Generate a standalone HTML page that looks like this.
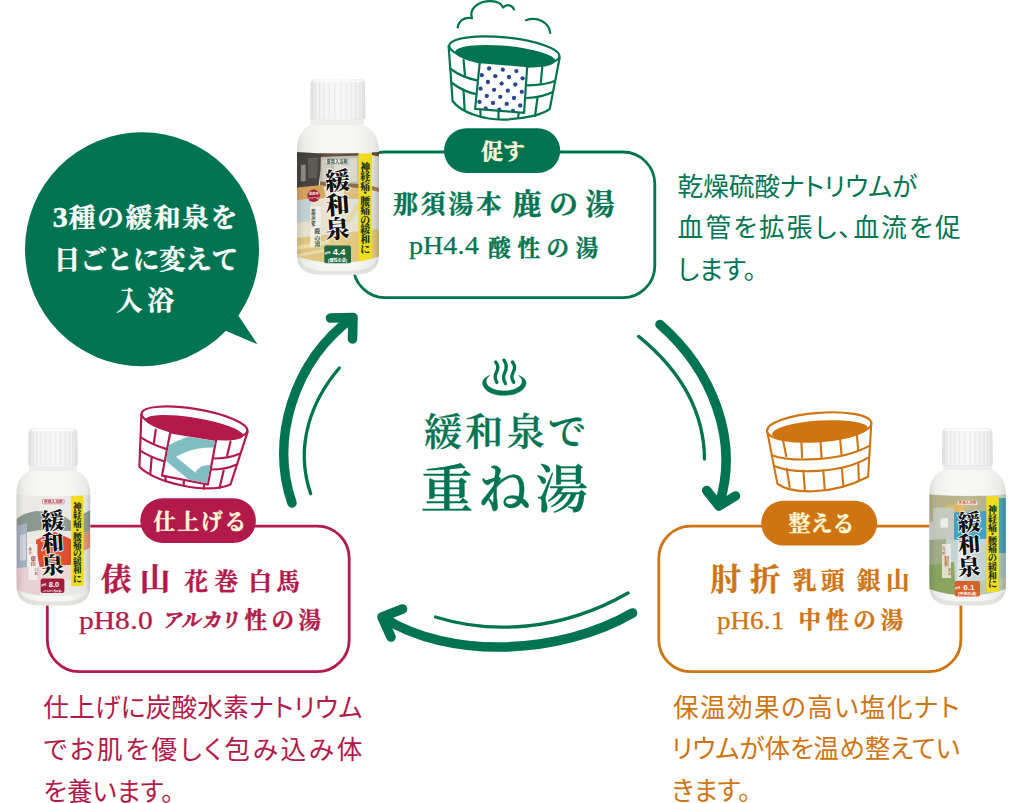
<!DOCTYPE html>
<html lang="ja">
<head>
<meta charset="utf-8">
<title>緩和泉で重ね湯</title>
<style>
html,body{margin:0;padding:0;background:#fff;}
body{width:1024px;height:803px;position:relative;overflow:hidden;}
#stage{position:absolute;left:0;top:0;width:1024px;height:803px;overflow:hidden;background:#fff;}
svg#art{position:absolute;left:0;top:0;}
.t{position:absolute;white-space:nowrap;margin:0;padding:0;}
.serif{font-family:"Liberation Serif","Noto Serif CJK JP","Noto Serif CJK SC",serif;font-weight:700;-webkit-text-stroke:0.45px currentColor;}
.sans{font-family:"Liberation Sans","Noto Sans CJK JP",sans-serif;font-weight:400;font-feature-settings:"palt" 1;}
.g{color:#007451;}
.o{color:#cf7412;}
.c{color:#b11a4a;}
.w{color:#fdf7d6;}
.desc{font-size:25.6px;line-height:41.7px;}
.desc div{white-space:nowrap;}
.desc .j{text-align:justify;text-align-last:justify;}
.k26{font-size:24.8px;line-height:32px;letter-spacing:2.4px;}
.k32{font-size:29px;line-height:38px;letter-spacing:7px;}
.k24{font-size:22.5px;line-height:30px;letter-spacing:5.5px;}
.k32b{font-size:30.5px;line-height:38px;letter-spacing:7.5px;}
.k24b{font-size:23.5px;line-height:30px;letter-spacing:4.5px;}
.kana{font-weight:700;-webkit-text-stroke:0.6px currentColor;font-size:19.5px;line-height:30px;letter-spacing:1.5px;font-feature-settings:"palt" 1;transform:skewX(-8deg);transform-origin:left bottom;}
.lat{font-family:"Liberation Serif",serif;font-weight:400;font-size:25px;line-height:30px;letter-spacing:0.3px;-webkit-text-stroke:0.25px currentColor;transform-origin:0 50%;}
.ph{letter-spacing:0;}
</style>
</head>
<body>
<div id="stage">
<svg id="art" width="1024" height="803" viewBox="0 0 1024 803">
<!-- speech bubble -->
<g id="bubble" fill="#007451">
<circle cx="142" cy="249.3" r="117"/>
<path d="M238 315 L257.5 344.3 L225 330.5 Z"/>
</g>

<!-- boxes -->
<g id="boxes" fill="none" stroke-width="2.8">
<rect x="353.3" y="152" width="301.5" height="145.7" rx="32" stroke="#007451"/>
<rect x="47.3" y="526.2" width="301.9" height="145.5" rx="32" stroke="#b11a4a"/>
<rect x="658.8" y="526.2" width="302.1" height="145.5" rx="32" stroke="#cf7412"/>
</g>
<!-- pills -->
<g id="pills">
<rect x="444" y="128.2" width="116.2" height="44.8" rx="22.4" fill="#007451"/>
<rect x="140.3" y="498.2" width="115.6" height="44.8" rx="22.4" fill="#b11a4a"/>
<rect x="761.2" y="500.8" width="116" height="44.8" rx="22.4" fill="#cf7412"/>
</g>

<!-- BOTTLES START -->
<g id="bottle1">
<defs><linearGradient id="bg1" x1="0" x2="1" y1="0" y2="0"><stop offset="0" stop-color="#d9d9d6"/><stop offset="0.08" stop-color="#ececea"/><stop offset="0.3" stop-color="#f7f7f5"/><stop offset="0.7" stop-color="#f6f6f4"/><stop offset="0.93" stop-color="#eaeae8"/><stop offset="1" stop-color="#dcdcd9"/></linearGradient>
<linearGradient id="cg1" x1="0" x2="1" y1="0" y2="0"><stop offset="0" stop-color="#e3e3e3"/><stop offset="0.12" stop-color="#f3f3f3"/><stop offset="0.55" stop-color="#f8f8f8"/><stop offset="0.9" stop-color="#efefef"/><stop offset="1" stop-color="#e2e2e2"/></linearGradient>
<linearGradient id="lg1" x1="0" x2="1" y1="0" y2="0"><stop offset="0" stop-color="#000" stop-opacity="0.12"/><stop offset="0.1" stop-color="#000" stop-opacity="0.02"/><stop offset="0.5" stop-color="#fff" stop-opacity="0.06"/><stop offset="0.92" stop-color="#000" stop-opacity="0.03"/><stop offset="1" stop-color="#000" stop-opacity="0.16"/></linearGradient>
<clipPath id="lc1"><path d="M297.0 152.0 Q338.0 155.0 379.0 152.0 L379.0 256.5 Q338.0 269.5 297.0 256.5 Z"/></clipPath></defs>
<path d="M310.8 119.2 L310.8 125 C303.8 127.5 297.0 135 297.0 151.5 L297.0 255.8 C297.5 269.8 306.0 274.8 324.0 274.8 L352.0 274.8 C370.0 274.8 378.5 269.8 379.0 255.8 L379.0 151.5 C379.0 135 370.5 127.5 363.5 125 L363.5 119.2 Z" fill="url(#bg1)"/>
<path d="M297.5 255.8 C298.0 269.8 306.0 274.8 324.0 274.8 L352.0 274.8 C370.0 274.8 378.0 269.8 378.5 255.8 C376.0 265.8 367.0 270.3 352.0 270.8 L324.0 270.8 C309.0 270.3 300.0 265.8 297.5 255.8 Z" fill="#cfcfcc" opacity="0.5"/>
<g clip-path="url(#lc1)">
<rect x="297.0" y="150.5" width="82.0" height="121.0" fill="#ebe5d2"/>
<path d="M320.0 150.0 L358.8 150.0 L358.8 187.0 L320.0 186.0 Z" fill="#c3bdac"/>
<path d="M334.0 160.0 L357.0 158.0 L357.0 182.0 L334.0 181.0 Z" fill="#dedacd"/>
<path d="M322.0 160.0 L331.0 160.0 L331.0 181.0 L322.0 181.0 Z" fill="#d2cdbf"/>
<path d="M320.0 150.0 L358.8 150.0 L358.8 155.5 L320.0 157.0 Z" fill="#5e4a36"/>
<path d="M320.0 181.5 L358.8 184.0 L358.8 188.0 L320.0 186.0 Z" fill="#8a6b48"/>
<path d="M371.7 150.0 L379.0 150.0 L379.0 192.0 L371.7 190.0 Z" fill="#e7e5dd"/>
<path d="M371.7 150.0 L379.0 150.0 L379.0 156.5 L371.7 155.0 Z" fill="#6b5138"/>
<path d="M371.7 186.0 L379.0 188.0 L379.0 192.0 L371.7 190.0 Z" fill="#a08058"/>
<path d="M297.0 150.0 L321.0 150.0 L320.5 170.0 L318.5 187.0 L297.0 189.0 Z" fill="#47433e"/>
<path d="M300.8 165.0 L305.6 164.6 L305.6 181.0 L300.8 181.6 Z" fill="#9d9990" opacity="0.85"/>
<path d="M308.0 158.0 L318.0 157.5 L317.0 178.0 L308.0 178.6 Z" fill="#66625c" opacity="0.8"/>
<path d="M297.0 187.5 L323.0 185.0 L326.0 198.0 L297.0 200.0 Z" fill="#d9a55f"/>
<path d="M344.0 189.0 L358.8 188.0 L358.8 199.0 L344.0 199.0 Z" fill="#e2bd80"/>
<path d="M297.0 200.5 L311.0 199.5 L311.0 221.0 L297.0 222.5 Z" fill="#c6d6d8"/>
<path d="M344.0 199.0 L358.8 199.0 L358.8 214.0 L350.0 224.0 L344.0 226.0 Z" fill="#dfe6df"/>
<path d="M332.0 236.0 L358.8 201.0 L358.8 209.0 L338.0 238.0 Z" fill="#ead9a4"/>
<path d="M371.7 192.0 L379.0 192.0 L379.0 232.0 L371.7 234.0 Z" fill="#e3e3d6"/>
<path d="M297.0 238.0 L379.0 229.0 L379.0 272.0 L297.0 272.0 Z" fill="#e4c980"/>
<path d="M297.0 246.0 L330.0 240.0 L330.0 243.5 L297.0 250.0 Z" fill="#f1e4b8" opacity="0.9"/>
<path d="M297.0 254.0 L324.0 249.0 L324.0 252.0 L297.0 257.5 Z" fill="#f1e4b8" opacity="0.8"/>
<rect x="310.2" y="206.4" width="10.6" height="41" fill="#f6f4ee" opacity="0.92"/>
<rect x="358.5" y="153.8" width="13.399999999999977" height="107.19999999999999" fill="#f6e31c"/>
<rect x="297.0" y="150.5" width="82.0" height="121.0" fill="url(#lg1)"/>
</g>
<g font-family="'Liberation Serif','Noto Serif CJK JP','Noto Serif CJK SC',serif" font-weight="900" font-size="9.83" fill="#14301f" text-anchor="middle">
<text x="365.2" y="170.8">神</text>
<text x="365.2" y="180.4">経</text>
<text x="365.2" y="190.0">痛</text>
<text x="365.2" y="197.3">・</text>
<text x="365.2" y="204.5">腰</text>
<text x="365.2" y="214.2">痛</text>
<text x="365.2" y="223.8">の</text>
<text x="365.2" y="233.4">緩</text>
<text x="365.2" y="243.1">和</text>
<text x="365.2" y="252.7">に</text>
</g>
<g font-family="'Liberation Serif','Noto Serif CJK JP','Noto Serif CJK SC',serif" font-weight="900" font-size="24.68" fill="#101010" stroke="#fff" stroke-width="1.6" paint-order="stroke" stroke-linejoin="round" text-anchor="middle">
<text x="337.4" y="189.6" transform="rotate(-4 337.4 180.7)">緩</text>
<text x="337.4" y="213.8" transform="rotate(-4 337.4 204.9)">和</text>
<text x="337.4" y="238.0" transform="rotate(-4 337.4 229.1)">泉</text>
</g>
<rect x="324.3" y="245.6" width="26.69999999999999" height="17.700000000000017" rx="2" fill="#1d6a43"/>
<text x="339.1" y="255.3" font-family="'Liberation Sans',sans-serif" font-weight="700" font-size="9.20" fill="#fff" text-anchor="middle">4.4</text>
<text x="337.6" y="261.5" font-family="'Liberation Sans','Noto Sans CJK JP',sans-serif" font-weight="700" font-size="4.09" fill="#fff" text-anchor="middle">[酸性の湯]</text>
<text x="327.5" y="254.4" font-family="'Liberation Sans',sans-serif" font-weight="700" font-size="4.25" fill="#fff" text-anchor="middle">pH</text>
<rect x="325.6" y="158.9" width="23.299999999999955" height="5.0" rx="0.8" fill="#fff" fill-opacity="0.9" stroke="#9ab0a0" stroke-width="0.5"/>
<text x="337.2" y="163.0" font-family="'Liberation Sans','Noto Sans CJK JP',sans-serif" font-weight="700" font-size="4.25" fill="#2a4a35" text-anchor="middle">薬用入浴剤</text>
<circle cx="313.6" cy="195.8" r="6.2" fill="#a3202e"/><text x="313.6" y="195.2" font-family="'Liberation Sans','Noto Sans CJK JP',sans-serif" font-weight="700" font-size="3.2" fill="#fff" text-anchor="middle">温泉地</text><text x="313.6" y="198.9" font-family="'Liberation Sans','Noto Sans CJK JP',sans-serif" font-weight="700" font-size="2.7" fill="#fff" text-anchor="middle">シリーズ</text><g font-family="'Liberation Serif','Noto Serif CJK JP','Noto Serif CJK SC',serif" font-weight="700" fill="#2a3a30" text-anchor="middle"><text font-size="4.4" x="313.2" y="212.6">那</text><text font-size="4.4" x="313.2" y="217.2">須</text><text font-size="4.4" x="313.2" y="221.8">湯</text><text font-size="4.4" x="313.2" y="226.4">本</text><text font-size="6" x="317.3" y="233.3">鹿</text><text font-size="6" x="317.3" y="239.6">の</text><text font-size="6" x="317.3" y="245.9">湯</text></g>
<path d="M310.8 118.7 L363.5 118.7 L363.5 125 L310.8 125 Z" fill="#ededeb"/>
<path d="M311.8 119.2 L362.5 119.2" stroke="#d5d5d3" stroke-width="1.2"/>
<path d="M310 119.2 L310.8 83 Q311 79 315.5 79 L360.1 79 Q364.6 79 364.8 83 L365.6 119.2 Q337.8 120.8 310 119.2 Z" fill="url(#cg1)"/>
<path d="M311.1 82.2 L311.1 118.9" stroke="#d6d6d6" stroke-width="1.1" opacity="0.55"/>
<path d="M312.9 82.2 L312.9 118.9" stroke="#d6d6d6" stroke-width="1.1" opacity="0.55"/>
<path d="M315.7 82.2 L315.7 118.9" stroke="#d6d6d6" stroke-width="1.1" opacity="0.55"/>
<path d="M319.5 82.2 L319.5 118.9" stroke="#d6d6d6" stroke-width="1.1" opacity="0.55"/>
<path d="M324.1 82.2 L324.1 118.9" stroke="#d6d6d6" stroke-width="1.1" opacity="0.4"/>
<path d="M329.4 82.2 L329.4 118.9" stroke="#d6d6d6" stroke-width="1.1" opacity="0.4"/>
<path d="M334.9 82.2 L334.9 118.9" stroke="#d6d6d6" stroke-width="1.1" opacity="0.4"/>
<path d="M340.7 82.2 L340.7 118.9" stroke="#d6d6d6" stroke-width="1.1" opacity="0.4"/>
<path d="M346.2 82.2 L346.2 118.9" stroke="#d6d6d6" stroke-width="1.1" opacity="0.4"/>
<path d="M351.4 82.2 L351.4 118.9" stroke="#d6d6d6" stroke-width="1.1" opacity="0.4"/>
<path d="M356.1 82.2 L356.1 118.9" stroke="#d6d6d6" stroke-width="1.1" opacity="0.55"/>
<path d="M359.9 82.2 L359.9 118.9" stroke="#d6d6d6" stroke-width="1.1" opacity="0.55"/>
<path d="M362.7 82.2 L362.7 118.9" stroke="#d6d6d6" stroke-width="1.1" opacity="0.55"/>
<path d="M364.5 82.2 L364.5 118.9" stroke="#d6d6d6" stroke-width="1.1" opacity="0.55"/>
<path d="M314 81.2 L361.6 81.2" stroke="#fff" stroke-width="1.4" opacity="0.8"/>
</g>
<g id="bottle2">
<defs><linearGradient id="bg2" x1="0" x2="1" y1="0" y2="0"><stop offset="0" stop-color="#d9d9d6"/><stop offset="0.08" stop-color="#ececea"/><stop offset="0.3" stop-color="#f7f7f5"/><stop offset="0.7" stop-color="#f6f6f4"/><stop offset="0.93" stop-color="#eaeae8"/><stop offset="1" stop-color="#dcdcd9"/></linearGradient>
<linearGradient id="cg2" x1="0" x2="1" y1="0" y2="0"><stop offset="0" stop-color="#e3e3e3"/><stop offset="0.12" stop-color="#f3f3f3"/><stop offset="0.55" stop-color="#f8f8f8"/><stop offset="0.9" stop-color="#efefef"/><stop offset="1" stop-color="#e2e2e2"/></linearGradient>
<linearGradient id="lg2" x1="0" x2="1" y1="0" y2="0"><stop offset="0" stop-color="#000" stop-opacity="0.12"/><stop offset="0.1" stop-color="#000" stop-opacity="0.02"/><stop offset="0.5" stop-color="#fff" stop-opacity="0.06"/><stop offset="0.92" stop-color="#000" stop-opacity="0.03"/><stop offset="1" stop-color="#000" stop-opacity="0.16"/></linearGradient>
<clipPath id="lc2"><path d="M929.3 494.5 Q967.5999999999999 497.5 1005.9 494.5 L1005.9 589 Q967.5999999999999 602 929.3 589 Z"/></clipPath></defs>
<path d="M943 464.8 L943 470 C936 472.5 929.3 480 929.3 494 L929.3 586.4 C929.8 600.4 938.3 605.4 956.3 605.4 L978.9 605.4 C996.9 605.4 1005.4 600.4 1005.9 586.4 L1005.9 494 C1005.9 480 999.2 472.5 992.2 470 L992.2 464.8 Z" fill="url(#bg2)"/>
<path d="M929.8 586.4 C930.3 600.4 938.3 605.4 956.3 605.4 L978.9 605.4 C996.9 605.4 1004.9 600.4 1005.4 586.4 C1002.9 596.4 993.9 600.9 978.9 601.4 L956.3 601.4 C941.3 600.9 932.3 596.4 929.8 586.4 Z" fill="#cfcfcc" opacity="0.5"/>
<g clip-path="url(#lc2)">
<rect x="929.3" y="493" width="76.60000000000002" height="111" fill="#cfd8d0"/>
<path d="M929.3 492.0 L986.8 492.0 L986.8 514.0 L955.0 520.0 L929.3 522.0 Z" fill="#b9b68e"/>
<path d="M946.0 505.0 L963.0 503.5 L965.0 514.0 L946.0 516.0 Z" fill="#e3b962"/>
<path d="M933.0 508.0 L954.0 507.0 L954.0 540.0 L933.0 541.0 Z" fill="#c9cec2"/>
<path d="M940.4 518.4 L948.0 518.0 L948.0 527.4 L940.4 527.8 Z" fill="#f2f2ee"/>
<path d="M954.0 512.5 L986.8 511.0 L986.8 539.0 L954.0 540.0 Z" fill="#3fa3c5"/>
<path d="M998.7 498.0 L1005.9 498.0 L1005.9 553.0 L998.7 553.0 Z" fill="#4aa7b9"/>
<path d="M998.7 553.0 L1005.9 553.0 L1005.9 580.0 L998.7 580.0 Z" fill="#a9c4c0"/>
<path d="M929.3 540.0 L946.0 539.0 L948.0 575.0 L929.3 578.0 Z" fill="#a3b18c"/>
<path d="M946.0 540.0 L986.8 539.0 L986.8 584.0 L946.0 586.0 Z" fill="#c6d6d3"/>
<path d="M958.0 541.0 L966.0 540.5 L964.0 580.0 L957.0 580.0 Z" fill="#e6eeec" opacity="0.9"/>
<path d="M929.3 565.0 L954.0 562.0 L956.0 600.0 L929.3 600.0 Z" fill="#8ba861"/>
<path d="M956.0 584.0 L1005.9 578.0 L1005.9 600.0 L956.0 600.0 Z" fill="#bfcbb0"/>
<rect x="942" y="544" width="9" height="34" fill="#f4f3ec" opacity="0.82"/>
<rect x="986.4" y="496.2" width="12.200000000000045" height="95.80000000000001" fill="#f6e31c"/>
<rect x="929.3" y="493" width="76.60000000000002" height="111" fill="url(#lg2)"/>
</g>
<g font-family="'Liberation Serif','Noto Serif CJK JP','Noto Serif CJK SC',serif" font-weight="900" font-size="8.91" fill="#14301f" text-anchor="middle">
<text x="992.5" y="513.1">神</text>
<text x="992.5" y="521.8">経</text>
<text x="992.5" y="530.6">痛</text>
<text x="992.5" y="537.1">・</text>
<text x="992.5" y="543.7">腰</text>
<text x="992.5" y="552.4">痛</text>
<text x="992.5" y="561.1">の</text>
<text x="992.5" y="569.9">緩</text>
<text x="992.5" y="578.6">和</text>
<text x="992.5" y="587.3">に</text>
</g>
<g font-family="'Liberation Serif','Noto Serif CJK JP','Noto Serif CJK SC',serif" font-weight="900" font-size="22.88" fill="#101010" stroke="#fff" stroke-width="1.6" paint-order="stroke" stroke-linejoin="round" text-anchor="middle">
<text x="969.2" y="530.4" transform="rotate(-4 969.2 522.1)">緩</text>
<text x="969.2" y="552.8" transform="rotate(-4 969.2 544.6)">和</text>
<text x="969.2" y="575.2" transform="rotate(-4 969.2 567.0)">泉</text>
</g>
<rect x="954.6" y="581.1" width="25.399999999999977" height="15.5" rx="2" fill="#d6612a"/>
<text x="968.8" y="589.6" font-family="'Liberation Sans',sans-serif" font-weight="700" font-size="8.06" fill="#fff" text-anchor="middle">6.1</text>
<text x="967.3" y="595.1" font-family="'Liberation Sans','Noto Sans CJK JP',sans-serif" font-weight="700" font-size="3.89" fill="#fff" text-anchor="middle">[中性の湯]</text>
<text x="957.8" y="588.9" font-family="'Liberation Sans',sans-serif" font-weight="700" font-size="3.72" fill="#fff" text-anchor="middle">pH</text>
<rect x="957.5" y="500.8" width="20.0" height="4.199999999999989" rx="0.8" fill="#fff" fill-opacity="0.9" stroke="#e0b090" stroke-width="0.5"/>
<text x="967.5" y="504.1" font-family="'Liberation Sans','Noto Sans CJK JP',sans-serif" font-weight="700" font-size="3.57" fill="#c0603a" text-anchor="middle">薬用入浴剤</text>
<g font-family="'Liberation Serif','Noto Serif CJK JP','Noto Serif CJK SC',serif" font-weight="700" fill="#b5522a" text-anchor="middle"><text font-size="3.4" x="943.6" y="550">乳</text><text font-size="3.4" x="943.6" y="553.8">頭</text><text font-size="5" x="946.8" y="560">肘</text><text font-size="5" x="946.8" y="565.4">折</text><text font-size="3.4" x="949.8" y="571">銀</text><text font-size="3.4" x="949.8" y="574.8">山</text></g>
<path d="M943 464.3 L992.2 464.3 L992.2 470 L943 470 Z" fill="#ededeb"/>
<path d="M944 464.8 L991.2 464.8" stroke="#d5d5d3" stroke-width="1.2"/>
<path d="M941.8 464.8 L942.5999999999999 432.1 Q942.8 428.1 947.3 428.1 L987.4 428.1 Q991.9 428.1 992.1 432.1 L992.9 464.8 Q967.3499999999999 466.40000000000003 941.8 464.8 Z" fill="url(#cg2)"/>
<path d="M942.8 431.3 L942.8 464.5" stroke="#d6d6d6" stroke-width="1.1" opacity="0.55"/>
<path d="M944.5 431.3 L944.5 464.5" stroke="#d6d6d6" stroke-width="1.1" opacity="0.55"/>
<path d="M947.1 431.3 L947.1 464.5" stroke="#d6d6d6" stroke-width="1.1" opacity="0.55"/>
<path d="M950.6 431.3 L950.6 464.5" stroke="#d6d6d6" stroke-width="1.1" opacity="0.55"/>
<path d="M954.8 431.3 L954.8 464.5" stroke="#d6d6d6" stroke-width="1.1" opacity="0.4"/>
<path d="M959.6 431.3 L959.6 464.5" stroke="#d6d6d6" stroke-width="1.1" opacity="0.4"/>
<path d="M964.7 431.3 L964.7 464.5" stroke="#d6d6d6" stroke-width="1.1" opacity="0.4"/>
<path d="M970.0 431.3 L970.0 464.5" stroke="#d6d6d6" stroke-width="1.1" opacity="0.4"/>
<path d="M975.1 431.3 L975.1 464.5" stroke="#d6d6d6" stroke-width="1.1" opacity="0.4"/>
<path d="M979.9 431.3 L979.9 464.5" stroke="#d6d6d6" stroke-width="1.1" opacity="0.4"/>
<path d="M984.1 431.3 L984.1 464.5" stroke="#d6d6d6" stroke-width="1.1" opacity="0.55"/>
<path d="M987.6 431.3 L987.6 464.5" stroke="#d6d6d6" stroke-width="1.1" opacity="0.55"/>
<path d="M990.2 431.3 L990.2 464.5" stroke="#d6d6d6" stroke-width="1.1" opacity="0.55"/>
<path d="M991.9 431.3 L991.9 464.5" stroke="#d6d6d6" stroke-width="1.1" opacity="0.55"/>
<path d="M945.8 430.3 L988.9 430.3" stroke="#fff" stroke-width="1.4" opacity="0.8"/>
</g>
<g id="bottle3">
<defs><linearGradient id="bg3" x1="0" x2="1" y1="0" y2="0"><stop offset="0" stop-color="#d9d9d6"/><stop offset="0.08" stop-color="#ececea"/><stop offset="0.3" stop-color="#f7f7f5"/><stop offset="0.7" stop-color="#f6f6f4"/><stop offset="0.93" stop-color="#eaeae8"/><stop offset="1" stop-color="#dcdcd9"/></linearGradient>
<linearGradient id="cg3" x1="0" x2="1" y1="0" y2="0"><stop offset="0" stop-color="#e3e3e3"/><stop offset="0.12" stop-color="#f3f3f3"/><stop offset="0.55" stop-color="#f8f8f8"/><stop offset="0.9" stop-color="#efefef"/><stop offset="1" stop-color="#e2e2e2"/></linearGradient>
<linearGradient id="lg3" x1="0" x2="1" y1="0" y2="0"><stop offset="0" stop-color="#000" stop-opacity="0.12"/><stop offset="0.1" stop-color="#000" stop-opacity="0.02"/><stop offset="0.5" stop-color="#fff" stop-opacity="0.06"/><stop offset="0.92" stop-color="#000" stop-opacity="0.03"/><stop offset="1" stop-color="#000" stop-opacity="0.16"/></linearGradient>
<clipPath id="lc3"><path d="M16.5 494.5 Q53.4 497.5 90.3 494.5 L90.3 590 Q53.4 603 16.5 590 Z"/></clipPath></defs>
<path d="M29.2 465.4 L29.2 471 C22.2 473.5 16.5 481 16.5 494 L16.5 586.4 C17.0 600.4 25.5 605.4 43.5 605.4 L63.3 605.4 C81.3 605.4 89.8 600.4 90.3 586.4 L90.3 494 C90.3 481 83.8 473.5 76.8 471 L76.8 465.4 Z" fill="url(#bg3)"/>
<path d="M17.0 586.4 C17.5 600.4 25.5 605.4 43.5 605.4 L63.3 605.4 C81.3 605.4 89.3 600.4 89.8 586.4 C87.3 596.4 78.3 600.9 63.3 601.4 L43.5 601.4 C28.5 600.9 19.5 596.4 17.0 586.4 Z" fill="#cfcfcc" opacity="0.5"/>
<g clip-path="url(#lc3)">
<rect x="16.5" y="493" width="73.8" height="112" fill="#efeeea"/>
<path d="M16.5 519.0 L24.0 514.0 L36.0 511.0 L50.0 512.0 L62.0 515.0 L71.0 521.0 L71.0 531.0 L40.0 530.0 L16.5 534.0 Z" fill="#8c9b93"/>
<path d="M83.2 514.0 L90.3 510.0 L90.3 531.0 L83.2 533.0 Z" fill="#95a49b"/>
<path d="M16.5 526.0 L27.0 523.0 L27.0 568.0 L16.5 570.0 Z" fill="#a9b5c2"/>
<path d="M20.0 535.0 L26.0 534.0 L26.0 560.0 L20.0 561.0 Z" fill="#d0d7de"/>
<path d="M36.1 539.3 L54.8 531.8 L71.0 539.3 L71.0 564.7 L39.9 567.7 L36.1 549.8 Z" fill="#e14b2d"/>
<path d="M26.5 540.0 L44.0 533.2 L46.0 535.5 L28.0 543.5 Z" fill="#f5efe8"/>
<path d="M83.2 533.0 L90.3 531.0 L90.3 548.0 L83.2 551.0 Z" fill="#e59a80"/>
<path d="M83.2 551.0 L90.3 548.0 L90.3 580.0 L83.2 582.0 Z" fill="#e9e7de"/>
<path d="M16.5 568.0 L40.0 566.0 L40.0 600.0 L16.5 600.0 Z" fill="#ecd3d8"/>
<path d="M40.0 567.0 L71.0 565.0 L71.0 580.0 L40.0 582.0 Z" fill="#f0dcd6"/>
<rect x="28.5" y="544" width="9" height="36" fill="#f8f6f2" opacity="0.9"/>
<rect x="71.2" y="495.6" width="12.399999999999991" height="90.39999999999998" fill="#f6e31c"/>
<rect x="16.5" y="493" width="73.8" height="112" fill="url(#lg3)"/>
</g>
<g font-family="'Liberation Serif','Noto Serif CJK JP','Noto Serif CJK SC',serif" font-weight="900" font-size="8.65" fill="#14301f" text-anchor="middle">
<text x="77.4" y="509.8">神</text>
<text x="77.4" y="518.2">経</text>
<text x="77.4" y="526.7">痛</text>
<text x="77.4" y="533.1">・</text>
<text x="77.4" y="539.5">腰</text>
<text x="77.4" y="547.9">痛</text>
<text x="77.4" y="556.4">の</text>
<text x="77.4" y="564.9">緩</text>
<text x="77.4" y="573.4">和</text>
<text x="77.4" y="581.9">に</text>
</g>
<g font-family="'Liberation Serif','Noto Serif CJK JP','Noto Serif CJK SC',serif" font-weight="900" font-size="22.88" fill="#101010" stroke="#fff" stroke-width="1.6" paint-order="stroke" stroke-linejoin="round" text-anchor="middle">
<text x="52.5" y="528.9" transform="rotate(-4 52.5 520.6)">緩</text>
<text x="52.5" y="551.3" transform="rotate(-4 52.5 543.1)">和</text>
<text x="52.5" y="573.7" transform="rotate(-4 52.5 565.5)">泉</text>
</g>
<rect x="40.6" y="578.6" width="23.800000000000004" height="14.399999999999977" rx="2" fill="#9e1f3c"/>
<text x="54.0" y="586.5" font-family="'Liberation Sans',sans-serif" font-weight="700" font-size="7.49" fill="#fff" text-anchor="middle">8.0</text>
<text x="52.5" y="591.6" font-family="'Liberation Sans','Noto Sans CJK JP',sans-serif" font-weight="700" font-size="2.43" fill="#fff" text-anchor="middle">[アルカリ性の湯]</text>
<text x="43.8" y="585.8" font-family="'Liberation Sans',sans-serif" font-weight="700" font-size="3.46" fill="#fff" text-anchor="middle">pH</text>
<rect x="42.5" y="499.4" width="21.700000000000003" height="4.400000000000034" rx="0.8" fill="#fff" fill-opacity="0.9" stroke="#c0404a" stroke-width="0.5"/>
<text x="53.4" y="502.9" font-family="'Liberation Sans','Noto Sans CJK JP',sans-serif" font-weight="700" font-size="3.74" fill="#b02a3a" text-anchor="middle">薬用入浴剤</text>
<g font-family="'Liberation Serif','Noto Serif CJK JP','Noto Serif CJK SC',serif" font-weight="700" fill="#9e2440" text-anchor="middle"><text font-size="3.4" x="30.2" y="550">花</text><text font-size="3.4" x="30.2" y="553.8">巻</text><text font-size="5" x="33.2" y="560">俵</text><text font-size="5" x="33.2" y="565.4">山</text><text font-size="3.4" x="36.2" y="571">白</text><text font-size="3.4" x="36.2" y="574.8">馬</text></g>
<path d="M29.2 464.9 L76.8 464.9 L76.8 471 L29.2 471 Z" fill="#ededeb"/>
<path d="M30.2 465.4 L75.8 465.4" stroke="#d5d5d3" stroke-width="1.2"/>
<path d="M28 465.4 L28.8 432.1 Q29 428.1 33.5 428.1 L72.4 428.1 Q76.9 428.1 77.10000000000001 432.1 L77.9 465.4 Q52.95 467.0 28 465.4 Z" fill="url(#cg3)"/>
<path d="M29.0 431.3 L29.0 465.09999999999997" stroke="#d6d6d6" stroke-width="1.1" opacity="0.55"/>
<path d="M30.6 431.3 L30.6 465.09999999999997" stroke="#d6d6d6" stroke-width="1.1" opacity="0.55"/>
<path d="M33.2 431.3 L33.2 465.09999999999997" stroke="#d6d6d6" stroke-width="1.1" opacity="0.55"/>
<path d="M36.6 431.3 L36.6 465.09999999999997" stroke="#d6d6d6" stroke-width="1.1" opacity="0.55"/>
<path d="M40.7 431.3 L40.7 465.09999999999997" stroke="#d6d6d6" stroke-width="1.1" opacity="0.4"/>
<path d="M45.4 431.3 L45.4 465.09999999999997" stroke="#d6d6d6" stroke-width="1.1" opacity="0.4"/>
<path d="M50.4 431.3 L50.4 465.09999999999997" stroke="#d6d6d6" stroke-width="1.1" opacity="0.4"/>
<path d="M55.5 431.3 L55.5 465.09999999999997" stroke="#d6d6d6" stroke-width="1.1" opacity="0.4"/>
<path d="M60.5 431.3 L60.5 465.09999999999997" stroke="#d6d6d6" stroke-width="1.1" opacity="0.4"/>
<path d="M65.2 431.3 L65.2 465.09999999999997" stroke="#d6d6d6" stroke-width="1.1" opacity="0.4"/>
<path d="M69.3 431.3 L69.3 465.09999999999997" stroke="#d6d6d6" stroke-width="1.1" opacity="0.55"/>
<path d="M72.7 431.3 L72.7 465.09999999999997" stroke="#d6d6d6" stroke-width="1.1" opacity="0.55"/>
<path d="M75.3 431.3 L75.3 465.09999999999997" stroke="#d6d6d6" stroke-width="1.1" opacity="0.55"/>
<path d="M76.9 431.3 L76.9 465.09999999999997" stroke="#d6d6d6" stroke-width="1.1" opacity="0.55"/>
<path d="M32 430.3 L73.9 430.3" stroke="#fff" stroke-width="1.4" opacity="0.8"/>
</g>
<!-- BOTTLES END -->

<!-- arrows -->
<g id="arrows" fill="none" stroke="#007451" stroke-linecap="round" stroke-linejoin="round">
<!-- left: up -->
<path d="M292 503 C270 440 293 362 352 318" stroke-width="9.6"/>
<path d="M330.5 318 L353 317.5 L352.5 339" stroke-width="9.6"/>
<path d="M310.7 493.8 C294 445 312 400 339.3 368" stroke-width="3.3"/>
<!-- right: down -->
<path d="M660 324.5 C712 370 740 440 719 505" stroke-width="9.6"/>
<path d="M706.7 490.5 L719 506 L735.4 496" stroke-width="9.6"/>
<path d="M638.6 336.4 C680 370 704 410 704.5 459" stroke-width="3.3"/>
<!-- bottom: left -->
<path d="M632.5 613 C560 655 450 660 383 617.5" stroke-width="9.6"/>
<path d="M402.5 609 L382 617 L391 637" stroke-width="9.6"/>
<path d="M628 593 C560 632 490 634 435.5 617" stroke-width="3.3"/>
</g>

<!-- bucket green (top) -->
<g id="bucket1" fill="none" stroke="#007451" stroke-width="2.2" stroke-linecap="round" stroke-linejoin="round">
<!-- steam -->
<path d="M457.7 27.5 C458.5 21 464.5 16.5 472 18.2 C468.5 7 481 0.8 491 1.2 C497.5 1.5 501.5 4 503 7.5 C507 3.5 512.5 5 514 9.5"/>
<path d="M526 20.2 C537 16.5 549 21.5 550.2 33"/>
<!-- body -->
<path d="M448.6 46 L452.6 101 C462 114 487 120 504 119.6 C524 119 543 114.5 549.8 108.8 L559.7 57.5" fill="#fff"/>
<!-- rim -->
<ellipse cx="504.3" cy="51" rx="55.3" ry="13.6" transform="rotate(5.6 504.3 51)" fill="#fff"/>
<ellipse cx="505.1" cy="56.4" rx="50.4" ry="10.6" transform="rotate(5.2 505.1 56.4)" fill="#007451" stroke="none"/>
<!-- band -->
<path d="M450 68.5 C460 76 470 79 477 80.3"/>
<path d="M527.8 85.4 C540 85 549 83.5 554.6 81"/>
<path d="M451.4 82.5 C460 89 468 92.5 476 94.2"/>
<path d="M526.8 98 C538 97.5 547 95 552.6 92"/>
<!-- staves -->
<path d="M463.6 59.5 L465 76.5"/>
<path d="M542.3 67 L540.6 84.5"/>
<path d="M463.5 89.5 L464.6 109.5"/>
<path d="M537.5 97.5 L535 116"/>
<path d="M480.3 109 L480.6 116.5"/>
<path d="M498.5 111.5 L498.5 119"/>
<path d="M518.8 112.5 L518 118"/>
<!-- towel -->
<path d="M479.8 62.2 L527.2 66.1 L524.1 112.8 L475.1 108.9 Z" fill="#fff"/>
</g>
<defs><clipPath id="tw1"><path d="M480.8 63.2 L526.2 67 L523.2 111.8 L476.1 108 Z"/></clipPath></defs>
<g id="dots1" fill="#27478e" clip-path="url(#tw1)">
<circle cx="489.1" cy="68.5" r="2.15"/><circle cx="502.8" cy="69.7" r="2.15"/><circle cx="516.4" cy="71.1" r="2.15"/><circle cx="481.8" cy="75.2" r="2.15"/><circle cx="495.3" cy="76.2" r="2.15"/><circle cx="509.0" cy="77.0" r="2.15"/><circle cx="522.6" cy="78.3" r="2.15"/><circle cx="487.9" cy="82.0" r="2.15"/><circle cx="501.6" cy="83.6" r="2.15"/><circle cx="515.3" cy="84.5" r="2.15"/><circle cx="480.6" cy="88.7" r="2.15"/><circle cx="494.1" cy="89.8" r="2.15"/><circle cx="507.8" cy="90.7" r="2.15"/><circle cx="521.8" cy="91.8" r="2.15"/><circle cx="486.8" cy="96.0" r="2.15"/><circle cx="500.3" cy="96.8" r="2.15"/><circle cx="514.0" cy="98.0" r="2.15"/><circle cx="479.5" cy="101.9" r="2.15"/><circle cx="493.0" cy="103.0" r="2.15"/><circle cx="506.7" cy="103.9" r="2.15"/><circle cx="520.2" cy="105.5" r="2.15"/><circle cx="485.7" cy="108.4" r="2.15"/><circle cx="499.2" cy="109.7" r="2.15"/><circle cx="512.9" cy="110.8" r="2.15"/>
</g>

<!-- bucket orange (right) -->
<g id="bucket2" fill="none" stroke="#cf7412" stroke-width="2.1" stroke-linecap="round" stroke-linejoin="round">
<path d="M767.1 431 L777.4 483.6 C790 493.5 830 496.5 868.1 476.7 L871.3 423" fill="#fff"/>
<ellipse cx="819.2" cy="427" rx="52.3" ry="14.2" transform="rotate(-4.44 819.2 427)" fill="#fff"/>
<ellipse cx="819.9" cy="431" rx="48" ry="10.4" transform="rotate(-3.7 819.9 431)" fill="#cf7412" stroke="none"/>
<path d="M772 455.2 C790 462 840 462 869.8 445.6" stroke-linecap="butt"/>
<path d="M774.4 466 C792 474 842 474 869 457.2" stroke-linecap="butt"/>
<path d="M782.9 439.7 L786.3 456.2"/>
<path d="M801.4 441.8 L802.1 457.5"/>
<path d="M820.5 441.1 L821.5 457.3"/>
<path d="M840.1 439 L841.5 454.1"/>
<path d="M856.8 434.2 L858.2 450"/>
<path d="M786.7 468.5 L789.7 487"/>
<path d="M803.4 470.5 L804.8 489.7"/>
<path d="M823.3 470.5 L824.7 489"/>
<path d="M841.8 467.8 L843.4 486.3"/>
<path d="M858.2 463 L858.9 480.8"/>
</g>

<!-- bucket crimson (left) -->
<g id="bucket3" fill="none" stroke="#b11a4a" stroke-width="2.2" stroke-linecap="round" stroke-linejoin="round">
<path d="M141.4 414 L139.4 466.7 C155 482 205 495 230.5 484.5 L247.6 431.8" fill="#fff"/>
<ellipse cx="194.5" cy="422.2" rx="53.6" ry="13.2" transform="rotate(9.5 194.5 422.2)" fill="#fff"/>
<ellipse cx="194.4" cy="427.7" rx="49.3" ry="9.9" transform="rotate(9.6 194.4 427.7)" fill="#b11a4a" stroke="none"/>
<path d="M140.8 437.3 C148 442 157 446 166.1 448.9"/>
<path d="M212.7 458.5 C222 458.5 232 457 239.6 453.7"/>
<path d="M139.8 450.3 C147 455 155 458.5 164 461.2"/>
<path d="M211.3 469.5 C220 469.5 229 468 236 464.7"/>
<path d="M155.8 429.5 L153.8 443.4"/>
<path d="M230.5 441.4 L227.1 455.8"/>
<path d="M151.7 457.1 L150.3 473.6"/>
<path d="M165.4 477.7 L165.8 481.1"/>
<path d="M183.9 481.1 L183.6 485.6"/>
<path d="M204.5 484.5 L203.4 488.6"/>
<path d="M223.6 470.8 L219.5 487.9"/>
<path d="M170.2 432.5 L216.1 440 L207.9 484.5 L162 475.6 Z" fill="#fff"/>
</g>
<defs><clipPath id="tw3"><path d="M171 433.7 L214.9 440.9 L207.1 483.3 L163.2 474.8 Z"/></clipPath></defs>
<g id="fan3" clip-path="url(#tw3)" fill="none" stroke="#80bcc4">
<path d="M218 441 Q187 438.5 164 457" stroke-width="13.5"/>
<path d="M168.8 457.1 L199 481.8" stroke-width="9.5"/>
<path d="M196.2 470.8 Q201.7 464 213 464.7 L207.9 484.5 L193.5 481.8 Z" fill="#80bcc4" stroke="none"/>
</g>

<!-- onsen icon -->
<g id="onsen" fill="none" stroke="#007451" stroke-linecap="round" stroke-linejoin="round">
<path d="M489.4 375.6 C484.4 377.7 482 381 482.8 384.2 C484.4 390.8 492 395.3 503.9 395.3 C515.8 395.3 524.2 390.8 525.9 384.2 C526.7 381 524.3 377.7 518.9 375.6 C521.6 378 522.6 380.2 522 382.6 C520.6 387.6 513.4 391 503.9 391 C494.6 391 487.6 387.6 486.2 382.6 C485.6 380.2 486.8 378 489.4 375.6 Z" fill="#007451" stroke-width="0.6"/>
<path d="M495.7 362 C498.9 366 498 369.6 496.4 372.4 C494.4 376 495 379.4 496.9 382.4" stroke-width="3.3"/>
<path d="M504 360.2 C507.4 365 506.4 369.2 504.8 372.4 C502.7 376.4 503.4 380.2 505.5 383.6" stroke-width="3.3"/>
<path d="M512.4 362 C515.7 366 514.8 369.6 513.1 372.4 C511 376 511.7 379.4 513.7 382.4" stroke-width="3.3"/>
</g>
</svg>

<!-- bubble text -->
<div class="t serif w" id="m_bub1" style="color:#fff;left:50px;top:197.5px;width:190px;text-align:center;font-size:26.5px;line-height:40px;letter-spacing:1.9px;text-indent:1.9px;"><span style="font-size:30px;line-height:0;letter-spacing:1px;">3</span>種の緩和泉を</div>
<div class="t serif w" id="m_bub2" style="color:#fff;left:51px;top:240px;width:190px;text-align:center;font-size:26.5px;line-height:40px;letter-spacing:-0.2px;text-indent:-0.2px;">日ごとに変えて</div>
<div class="t serif w" id="m_bub3" style="color:#fff;left:50px;top:280.5px;width:190px;text-align:center;font-size:26.5px;line-height:40px;letter-spacing:5px;text-indent:5px;">入浴</div>

<!-- pill labels -->
<div class="t serif w" id="m_pill1" style="left:458px;top:135.5px;width:90px;text-align:center;font-size:22px;line-height:32px;">促す</div>
<div class="t serif w" id="m_pill2" style="left:150px;top:506px;width:100px;text-align:center;font-size:22px;line-height:32px;letter-spacing:1.6px;text-indent:1.6px;">仕上げる</div>
<div class="t serif w" id="m_pill3" style="left:776.5px;top:508.2px;width:90px;text-align:center;font-size:22px;line-height:32px;">整える</div>

<!-- top box text -->
<div class="t serif g k26" id="m_A1" style="left:393px;top:189.3px;letter-spacing:3px;">那須湯本</div>
<div class="t serif g k32" id="m_A2" style="left:512.4px;top:186.3px;letter-spacing:7.5px;">鹿の湯</div>
<div class="t serif g lat" id="m_A3" style="left:409px;top:231px;transform:scaleX(1.12);"><span class="ph">pH</span>4.4</div>
<div class="t serif g k24" id="m_A4" style="left:488.2px;top:233.5px;letter-spacing:6.7px;">酸性の湯</div>

<!-- left box text -->
<div class="t serif c k32b" id="m_B1" style="left:100.7px;top:561px;letter-spacing:8.5px;">俵山</div>
<div class="t serif c k24b" id="m_B2" style="left:184.5px;top:567px;letter-spacing:6.5px;">花巻</div>
<div class="t serif c k24b" id="m_B3" style="left:248.5px;top:567px;">白馬</div>
<div class="t serif c lat" id="m_B4" style="left:79.3px;top:605.5px;transform:scaleX(1.18);"><span class="ph">pH</span>8.0</div>
<div class="t serif c kana" id="m_B5" style="left:162px;top:606px;">アルカリ</div>
<div class="t serif c k24" id="m_B6" style="left:244.6px;top:606px;letter-spacing:4.5px;">性の湯</div>

<!-- right box text -->
<div class="t serif o k32b" id="m_C1" style="left:710.6px;top:561px;letter-spacing:9px;">肘折</div>
<div class="t serif o k24b" id="m_C2" style="left:793px;top:566px;">乳頭</div>
<div class="t serif o k24b" id="m_C3" style="left:857px;top:566px;letter-spacing:5.5px;">銀山</div>
<div class="t serif o lat" id="m_C4" style="left:716.5px;top:605.5px;transform:scaleX(1.08);"><span class="ph">pH</span>6.1</div>
<div class="t serif o k24" id="m_C5" style="left:798.5px;top:606px;letter-spacing:4.9px;">中性の湯</div>

<!-- center text -->
<div class="t serif g" id="m_ctr1" style="font-weight:600;-webkit-text-stroke:0.3px currentColor;left:405px;top:405.5px;width:200px;text-align:center;font-size:38px;line-height:52px;letter-spacing:3.4px;text-indent:3.4px;">緩和泉で</div>
<div class="t serif g" id="m_ctr2" style="font-weight:600;-webkit-text-stroke:0.3px currentColor;left:384.5px;top:455px;width:240px;text-align:center;font-size:52.5px;line-height:70px;letter-spacing:5px;text-indent:5px;">重ね湯</div>

<!-- descriptions -->
<div class="t sans g desc" style="left:677.6px;top:166.5px;width:283px;"><div id="m_d11">乾燥硫酸ナトリウムが</div><div class="j" id="m_d12">血管を拡張し、血流を促</div><div id="m_d13">します。</div></div>
<div class="t sans c desc" style="left:43.3px;top:688.2px;width:319px;"><div class="j" id="m_d21">仕上げに炭酸水素ナトリウム</div><div class="j" id="m_d22">でお肌を優しく包み込み体</div><div id="m_d23">を養います。</div></div>
<div class="t sans o desc" style="left:673px;top:687.6px;width:286.5px;"><div class="j" id="m_d31">保温効果の高い塩化ナト</div><div class="j" id="m_d32" style="margin-left:-1.5px;letter-spacing:-0.25px;">リウムが体を温め整えてい</div><div id="m_d33" style="margin-left:-1.5px;">きます。</div></div>

</div>
</body>
</html>
